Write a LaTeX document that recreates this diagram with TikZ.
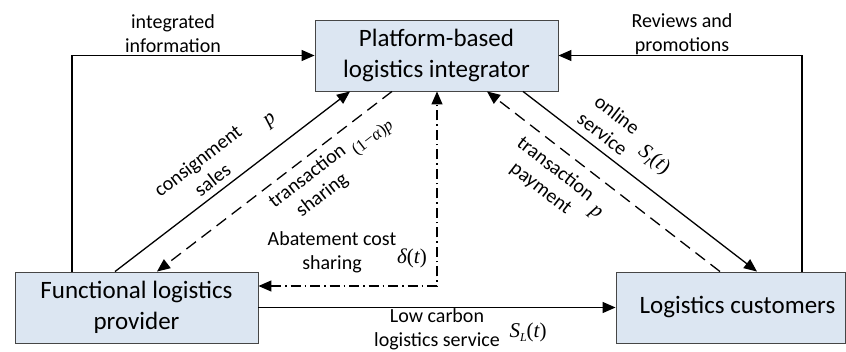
\documentclass[tikz,border=0pt]{standalone}
\usepackage{fontspec}
\setmainfont{Carlito}
\newfontfamily\serifmath{Liberation Serif}
\usetikzlibrary{arrows.meta}

% symbols set in an italic serif
\newcommand\vi[1]{{\serifmath\itshape #1}}
\newcommand\vr[1]{{\serifmath #1}}

\definecolor{boxfill}{RGB}{220,230,242}
\definecolor{boxline}{RGB}{70,70,70}

\begin{document}
\begin{tikzpicture}[x=1pt,y=-1pt,
  actor/.style={draw=boxline,line width=0.9pt,fill=boxfill,
    minimum width=243pt,minimum height=71pt,inner sep=0pt,align=center,
    font=\fontsize{25}{31}\selectfont},
  flow/.style={line width=1.3pt,-{Triangle[length=13pt,width=11pt]}},
  dashflow/.style={flow,dash pattern=on 12pt off 7pt},
  dotflow/.style={line width=1.3pt,{Triangle[length=13pt,width=11pt]}-{Triangle[length=13pt,width=11pt]},
    dash pattern=on 10pt off 4pt on 1.5pt off 4pt},
  lbl/.style={align=center,inner sep=0pt,font=\fontsize{20}{24}\selectfont},
  sym/.style={inner sep=0pt,font=\fontsize{21}{24}\selectfont}]

\useasboundingbox (0,0) rectangle (846,351);

% the three parties
\node[actor] (top) at (436.5,55.5) {Platform-based\\logistics integrator};
\node[actor] (left) at (136.5,307.5) {Functional logistics\\provider};
\node[actor,minimum width=229pt] (right) at (730.5,307.5) {\hspace*{14pt}Logistics customers};

% flows between the parties
\draw[flow] ([xshift=-64.5pt]left.north) |- (top.west);
\draw[flow] ([xshift=71.5pt]right.north) |- (top.east);
\draw[flow] ([xshift=-21.5pt]left.north) -- ([xshift=-86.5pt]top.south);
\draw[dashflow] ([xshift=-44.5pt]top.south) -- ([xshift=20.5pt]left.north);
\draw[dotflow] ([yshift=21.5pt]left.east) -| ([xshift=0.5pt]top.south);
\draw[flow] ([xshift=86.5pt]top.south) -- ([xshift=26.5pt]right.north);
\draw[dashflow] ([xshift=-10.5pt]right.north) -- ([xshift=50.5pt]top.south);
\draw[flow] (left.east) -- (right.west);

% labels
\node[lbl] (l1) at (173,33.5) {integrated\\information};
\node[lbl] (l2) at (682,34) {Reviews and\\promotions};
\node[lbl,rotate=37.6] (l3) at (205,170) {consignment\\sales};
\node[sym,rotate=37.6] (l3s) at (271,121) {\vi{p}};
\node[lbl,rotate=37.6] (l4) at (315,186) {transaction\\sharing};
\node[sym,rotate=37.6,font=\fontsize{17}{20}\selectfont] (l4s) at (373,138) {\vr{(1−}\vi{α}\vr{)}\vi{p}};
\node[lbl,rotate=-37.7] (l5) at (610,124) {online\\service};
\node[sym,rotate=-37.7] (l5s) at (654,160) {\vi{S}\raisebox{-4pt}{\fontsize{12}{12}\selectfont\vi{I}}\vr{(}\vi{t}\vr{)}};
\node[lbl,rotate=-37.7] (l6) at (548,179) {transaction\\payment};
\node[sym,rotate=-37.7] (l6s) at (595,214) {\vi{p}};
\node[lbl] (l7) at (332,252.5) {Abatement cost\\sharing};
\node[sym] (l7s) at (412,258) {\vi{δ}\vr{(}\vi{t}\vr{)}};
\node[lbl] (l8) at (437,329) {Low carbon\\logistics service};
\node[sym] (l8s) at (528,332) {\vi{S}\raisebox{-4pt}{\fontsize{12}{12}\selectfont\vi{L}}\vr{(}\vi{t}\vr{)}};
\end{tikzpicture}
\end{document}
